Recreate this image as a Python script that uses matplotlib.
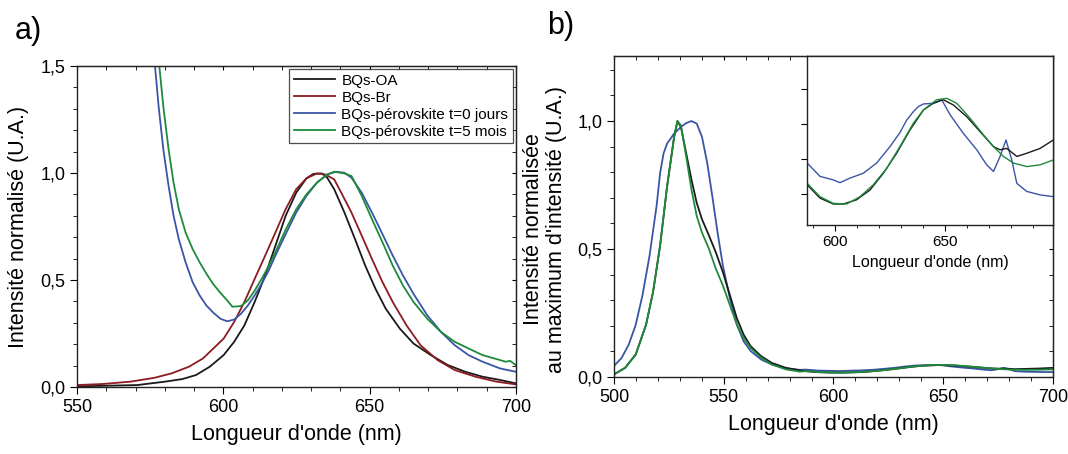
import matplotlib.pyplot as plt
from matplotlib.ticker import MultipleLocator, FuncFormatter

plt.rcParams['font.family'] = ['Liberation Sans', 'DejaVu Sans']

# ---- panel a) data: PL spectra normalised ----
wl_oa = [550, 570.6, 580.1, 586, 590.7, 595.4, 600.1, 603.7, 607.2, 610.7, 614.3, 617.8,
         621.3, 624.9, 628.4, 630.8, 633.7, 635.5, 637.9, 641.4, 645, 648.5, 652, 655.5,
         660.3, 665, 670.9, 676.8, 682.7, 688.6, 694.5, 700]
int_oa = [0.003, 0.009, 0.025, 0.037, 0.056, 0.095, 0.149, 0.211, 0.288, 0.397, 0.521, 0.660,
          0.800, 0.908, 0.975, 0.996, 0.998, 0.978, 0.924, 0.815, 0.691, 0.567, 0.459, 0.366,
          0.273, 0.203, 0.149, 0.102, 0.071, 0.048, 0.033, 0.017]

wl_br = [550, 558.8, 568.3, 576.5, 582.4, 588.3, 593, 596.6, 600.1, 603.7, 607.2, 610.7,
         614.3, 617.8, 621.3, 624.9, 628.4, 632, 634.9, 637.9, 640.3, 643.8, 647.3, 650.8,
         654.4, 657.9, 662.6, 667.4, 673.2, 679.1, 686.2, 693.3, 700]
int_br = [0.009, 0.014, 0.025, 0.043, 0.064, 0.095, 0.133, 0.180, 0.226, 0.304, 0.397, 0.505,
          0.614, 0.722, 0.831, 0.924, 0.975, 0.998, 0.993, 0.970, 0.908, 0.815, 0.707, 0.598,
          0.490, 0.397, 0.288, 0.195, 0.126, 0.079, 0.048, 0.025, 0.012]

wl_pk0 = [576.0, 577.9, 579.5, 581.3, 583.0, 584.8, 587.1, 589.5, 591.9, 594.2, 596.6, 599,
          601.3, 603.7, 606, 608.4, 610.7, 613.1, 615.5, 617.8, 621.3, 624.9, 628.4, 632,
          635.5, 638.4, 641.4, 643.8, 647.3, 650.8, 654.4, 657.9, 661.4, 665, 669.7, 674.4,
          679.1, 683.8, 688.6, 694.5, 700]
int_pk0 = [1.60, 1.31, 1.11, 0.939, 0.80, 0.69, 0.583, 0.49, 0.428, 0.381, 0.347, 0.319,
           0.307, 0.315, 0.342, 0.381, 0.428, 0.482, 0.544, 0.614, 0.714, 0.815, 0.893, 0.955,
           0.993, 1.006, 1.001, 0.978, 0.908, 0.815, 0.714, 0.614, 0.521, 0.435, 0.335, 0.257,
           0.195, 0.149, 0.118, 0.087, 0.071]

wl_pk5 = [577.4, 579.5, 581.3, 583, 584.8, 587.1, 589.5, 591.9, 594.2, 596.6, 599, 601.3,
          603.1, 606, 608.4, 610.7, 613.1, 615.5, 617.8, 621.3, 624.9, 628.4, 632, 635.5,
          637.9, 641.4, 643.8, 647.3, 650.8, 654.4, 657.9, 661.4, 665, 669.7, 674.4, 679.1,
          683.8, 688.6, 694.5, 696.5, 698, 700]
int_pk5 = [1.60, 1.31, 1.11, 0.955, 0.83, 0.722, 0.645, 0.583, 0.530, 0.48, 0.44, 0.405,
           0.375, 0.378, 0.405, 0.450, 0.505, 0.565, 0.630, 0.735, 0.830, 0.900, 0.955, 0.993,
           1.006, 0.998, 0.986, 0.893, 0.784, 0.676, 0.567, 0.474, 0.397, 0.319, 0.257, 0.211,
           0.180, 0.149, 0.126, 0.118, 0.122, 0.102]

# ---- panel b) data ----
wl_b_blue = [500, 503.5, 506.7, 509.9, 513, 516.2, 519.4, 521, 522.6, 524.2, 527.4, 530.5,
             532.9, 535.3, 537.7, 540.1, 542.5, 544.8, 547.2, 549.6, 552.8, 556, 559.1, 562.3,
             567.1, 571.9, 578.2, 584.6, 587.4, 593.2, 599.2, 602.3, 606.8, 612.9, 618.9,
             625.0, 629.5, 632.5, 635.6, 638.0, 640.2, 644.7, 648.5, 652.3, 658.3, 664.4, 668.9,
             672.0, 675.0, 677.7, 680.3, 682.6, 687.1, 693.2, 699.2, 700]
int_b_blue = [0.043, 0.075, 0.126, 0.204, 0.320, 0.474, 0.668, 0.796, 0.874, 0.912, 0.951, 0.977,
              0.992, 1.0, 0.990, 0.938, 0.835, 0.706, 0.564, 0.436, 0.307, 0.204, 0.139, 0.101,
              0.068, 0.049, 0.034, 0.028, 0.0288, 0.0250, 0.0240, 0.0232, 0.0245, 0.0259, 0.0288,
              0.0335, 0.0375, 0.0410, 0.0435, 0.0450, 0.0457, 0.0459, 0.0469, 0.0426, 0.0373,
              0.0326, 0.0283, 0.0264, 0.0307, 0.0354, 0.0297, 0.0230, 0.0207, 0.0197, 0.0192,
              0.0192]

wl_b_oa = [500, 505.1, 509.9, 514.6, 517.8, 521, 524.2, 527.4, 528.9, 530.5, 532.9, 535.3,
           537.7, 540.1, 543.3, 546.4, 549.6, 552.8, 556, 559.1, 562.3, 567.1, 571.9, 578.2,
           584.6, 587.4, 593.2, 599.2, 603.8, 609.8, 615.9, 622.0, 628.0, 634.1, 640.2, 644.7,
           649.2, 653.8, 659.8, 665.9, 672.0, 675.0, 678.0, 682.6, 687.1, 693.2, 699.2, 700]
int_b_oa = [0.010, 0.036, 0.088, 0.204, 0.332, 0.513, 0.745, 0.938, 1.0, 0.977, 0.874, 0.771,
            0.680, 0.616, 0.552, 0.487, 0.410, 0.320, 0.229, 0.165, 0.120, 0.081, 0.055, 0.036,
            0.026, 0.0226, 0.0188, 0.0171, 0.0171, 0.0183, 0.0211, 0.0259, 0.0316, 0.0383,
            0.0440, 0.0459, 0.0469, 0.0454, 0.0421, 0.0378, 0.0335, 0.0326, 0.0330, 0.0307,
            0.0316, 0.0330, 0.0354, 0.0355]

wl_b_pk5 = [500, 505.1, 509.9, 514.6, 517.8, 521, 524.2, 527.4, 528.9, 530.5, 532.9, 535.3,
            537.7, 540.1, 543.3, 546.4, 549.6, 552.8, 556, 559.1, 562.3, 567.1, 571.9, 578.2,
            584.6, 587.4, 593.2, 599.2, 605.3, 611.4, 617.4, 623.5, 629.5, 635.6, 640.2, 646.2,
            650.8, 655.3, 661.4, 667.4, 672.0, 676.5, 681.1, 687.1, 693.2, 699.2, 700]
int_b_pk5 = [0.010, 0.036, 0.088, 0.204, 0.332, 0.513, 0.745, 0.938, 1.0, 0.983, 0.861, 0.732,
             0.629, 0.564, 0.500, 0.423, 0.358, 0.281, 0.204, 0.152, 0.113, 0.075, 0.049, 0.030,
             0.021, 0.0230, 0.0192, 0.0173, 0.0171, 0.0192, 0.0226, 0.0273, 0.0335, 0.0402,
             0.0440, 0.0469, 0.0473, 0.0459, 0.0416, 0.0369, 0.0335, 0.0307, 0.0288, 0.0278,
             0.0283, 0.0297, 0.0298]

c_oa, c_br, c_pk0, c_pk5 = '#1a1a1a', '#8e1b1f', '#3a55a6', '#1e8a3c'
labels = ['BQs-OA', 'BQs-Br', 'BQs-pérovskite t=0 jours', 'BQs-pérovskite t=5 mois']

comma = FuncFormatter(lambda v, p: ('%.1f' % v).replace('.', ','))
lw = 1.3


def mirror_ticks(ax, fs):
    ax.tick_params(which='both', direction='out', labelsize=fs)
    ax.tick_params(which='major', length=5)
    ax.tick_params(which='minor', length=3)
    sx = ax.secondary_xaxis('top')
    sx.xaxis.set_major_locator(ax.xaxis.get_major_locator())
    sx.xaxis.set_minor_locator(ax.xaxis.get_minor_locator())
    sx.tick_params(which='both', direction='in', labeltop=False, length=3)
    sy = ax.secondary_yaxis('right')
    sy.yaxis.set_major_locator(ax.yaxis.get_major_locator())
    sy.yaxis.set_minor_locator(ax.yaxis.get_minor_locator())
    sy.tick_params(which='both', direction='in', labelright=False, length=3)


fig = plt.figure(figsize=(10.68, 4.54), dpi=100)

# ---------- a) ----------
ax1 = fig.add_axes([0.0721, 0.1476, 0.411, 0.707])
ax1.plot(wl_oa, int_oa, color=c_oa, lw=lw, label=labels[0])
ax1.plot(wl_br, int_br, color=c_br, lw=lw, label=labels[1])
ax1.plot(wl_pk0, int_pk0, color=c_pk0, lw=lw, label=labels[2])
ax1.plot(wl_pk5, int_pk5, color=c_pk5, lw=lw, label=labels[3])
ax1.set_xlim(550, 700)
ax1.set_ylim(0, 1.5)
ax1.xaxis.set_major_locator(MultipleLocator(50))
ax1.xaxis.set_minor_locator(MultipleLocator(10))
ax1.yaxis.set_major_locator(MultipleLocator(0.5))
ax1.yaxis.set_minor_locator(MultipleLocator(0.1))
ax1.yaxis.set_major_formatter(comma)
mirror_ticks(ax1, 13)
ax1.set_xlabel("Longueur d'onde (nm)", fontsize=15.5, labelpad=6)
ax1.set_ylabel('Intensité normalisé (U.A.)', fontsize=15.5, labelpad=8)
leg = ax1.legend(loc='upper right', fontsize=11, frameon=True, fancybox=False,
                 edgecolor='#222222', handlelength=2.7, borderpad=0.3,
                 labelspacing=0.2, handletextpad=0.4, borderaxespad=0.2)
leg.get_frame().set_linewidth(0.9)

# ---------- b) ----------
ax2 = fig.add_axes([0.5749, 0.1696, 0.411, 0.707])
ax2.plot(wl_b_blue, int_b_blue, color=c_pk0, lw=lw)
ax2.plot(wl_b_oa, int_b_oa, color=c_oa, lw=lw)
ax2.plot(wl_b_pk5, int_b_pk5, color=c_pk5, lw=lw)
ax2.set_xlim(500, 700)
ax2.set_ylim(0, 1.254)
ax2.xaxis.set_major_locator(MultipleLocator(50))
ax2.xaxis.set_minor_locator(MultipleLocator(10))
ax2.yaxis.set_major_locator(MultipleLocator(0.5))
ax2.yaxis.set_minor_locator(MultipleLocator(0.1))
ax2.yaxis.set_major_formatter(comma)
mirror_ticks(ax2, 13)
ax2.set_xlabel("Longueur d'onde (nm)", fontsize=15.5, labelpad=6)
ax2.set_ylabel("Intensité normalisée\nau maximum d'intensité (U.A.)", fontsize=15.5,
               linespacing=1.1)
ax2.yaxis.set_label_coords(-0.108, 0.46)

# inset
ax3 = fig.add_axes([0.7556, 0.5044, 0.2303, 0.3722])
ax3.plot(wl_b_blue, int_b_blue, color=c_pk0, lw=1.0)
ax3.plot(wl_b_oa, int_b_oa, color=c_oa, lw=1.0)
ax3.plot(wl_b_pk5, int_b_pk5, color=c_pk5, lw=1.0)
ax3.set_xlim(587.3, 699)
ax3.set_ylim(0.0111, 0.0594)
ax3.xaxis.set_major_locator(MultipleLocator(50))
ax3.xaxis.set_minor_locator(MultipleLocator(10))
ax3.yaxis.set_major_locator(MultipleLocator(0.01))
ax3.yaxis.set_major_formatter(FuncFormatter(lambda v, p: ''))
ax3.tick_params(which='both', direction='out', labelsize=11)
ax3.tick_params(which='major', length=4)
ax3.tick_params(which='minor', length=2.5)
ax3.set_xlabel("Longueur d'onde (nm)", fontsize=11.5, labelpad=4)

for a in (ax1, ax2, ax3):
    for s in a.spines.values():
        s.set_linewidth(1.0)
        s.set_color('#222222')

fig.text(0.014, 0.915, 'a)', fontsize=22)
fig.text(0.512, 0.925, 'b)', fontsize=22)

fig.savefig('out.png', dpi=100)
